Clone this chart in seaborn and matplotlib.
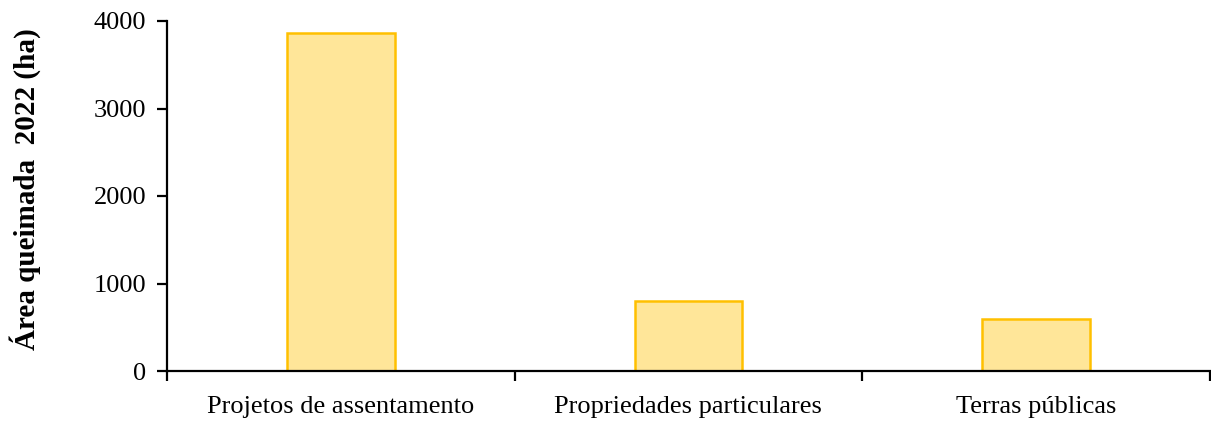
import numpy as np
import matplotlib
matplotlib.use("Agg")
import matplotlib.pyplot as plt
import seaborn as sns

categorias = ["Projetos de assentamento", "Propriedades particulares", "Terras públicas"]
area_ha = [3865, 800, 595]
y_ticks = [0, 1000, 2000, 3000, 4000]

sns.set_style("white")
plt.rcParams["font.family"] = ["Liberation Serif", "DejaVu Serif"]
plt.rcParams["text.color"] = "black"
plt.rcParams["xtick.color"] = "black"
plt.rcParams["ytick.color"] = "black"
plt.rcParams["axes.labelcolor"] = "black"

fig = plt.figure(figsize=(12.11, 4.21), dpi=100)
ax = fig.add_axes([167 / 1211, 1 - 371 / 421, 1 - 167 / 1211 - 0.001, (371 - 21) / 421])

sns.barplot(x=categorias, y=area_ha, color="#FFE699", edgecolor="#FFC000",
            linewidth=1.8, width=0.31, saturation=1, ax=ax)

ax.set_xlim(-0.5, 2.5)
ax.set_ylim(0, 4000)
ax.set_yticks(y_ticks)
ax.set_ylabel("Área queimada  2022 (ha)", fontsize=21, fontweight="bold")
ax.yaxis.set_label_coords(-0.121, 0.52)
ax.set_xlabel("")

# excel style: ticks between categories, labels centered
ax.set_xticks(np.arange(len(categorias)))
ax.set_xticklabels(categorias)
ax.set_xticks(np.arange(-0.5, len(categorias)), minor=True)
ax.tick_params(axis="x", which="major", length=0, labelsize=19, pad=18)
ax.tick_params(axis="x", which="minor", length=7, width=1.6, direction="out", bottom=True)
ax.tick_params(axis="y", length=7, width=1.6, direction="out", labelsize=19, left=True, pad=8)

for s in ["top", "right"]:
    ax.spines[s].set_visible(False)
for s in ["left", "bottom"]:
    ax.spines[s].set_linewidth(1.6)
    ax.spines[s].set_color("black")

plt.savefig("out.png", dpi=100)
